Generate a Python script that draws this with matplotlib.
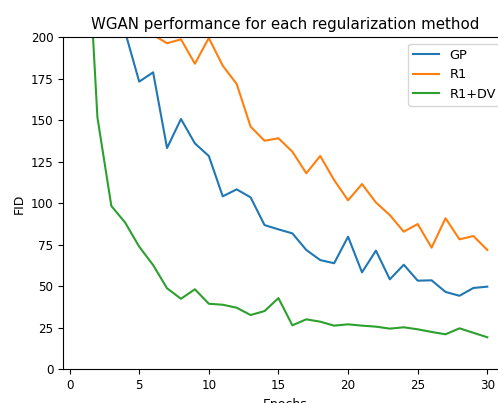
import matplotlib
matplotlib.use("Agg")
import matplotlib.pyplot as plt
import numpy as np

epochs = np.arange(1, 31)

# FID per epoch (values above 200 are off the visible range, estimated)
gp = [290, 245, 215, 203, 173.3, 178.9, 133.3, 150.8, 136.1, 128.5,
      104.2, 108.4, 103.6, 86.9, 84.3, 81.9, 71.9, 65.8, 63.9, 79.9,
      58.4, 71.5, 54.2, 63.0, 53.4, 53.6, 46.6, 44.3, 49.0, 49.8]
r1 = [300, 270, 245, 225, 210, 201.5, 196.4, 198.8, 184.1, 199.6,
      182.9, 171.9, 146.2, 137.7, 139.2, 131.1, 118.1, 128.5, 114.0, 101.8,
      111.6, 100.5, 92.9, 82.9, 87.5, 73.3, 91.0, 78.3, 80.3, 71.9]
r1dv = [305, 151.8, 98.4, 88.3, 73.9, 62.8, 48.8, 42.5, 48.2, 39.5,
        38.9, 37.1, 32.7, 35.1, 42.9, 26.5, 30.1, 28.7, 26.3, 27.1,
        26.3, 25.7, 24.5, 25.3, 24.1, 22.5, 21.1, 24.7, 22.0, 19.3]

fig = plt.figure(figsize=(4.98, 4.03), dpi=100)
# axes runs past the right edge of the figure (reference is cropped there)
ax = fig.add_axes([0.1271, 0.0836, 0.892, 0.8238])

ax.plot(epochs, gp, label="GP")
ax.plot(epochs, r1, label="R1")
ax.plot(epochs, r1dv, label="R1+DV")

ax.set_ylim(0, 200)
ax.set_xticks([0, 5, 10, 15, 20, 25, 30])
ax.tick_params(labelsize=8.6)
ax.set_xlabel("Epochs", fontsize=9)
ax.set_ylabel("FID", fontsize=9)
ax.set_title("WGAN performance for each regularization method", fontsize=10.8)
ax.legend(loc="upper right", fontsize=9.3)

fig.savefig("out.png", dpi=100)
